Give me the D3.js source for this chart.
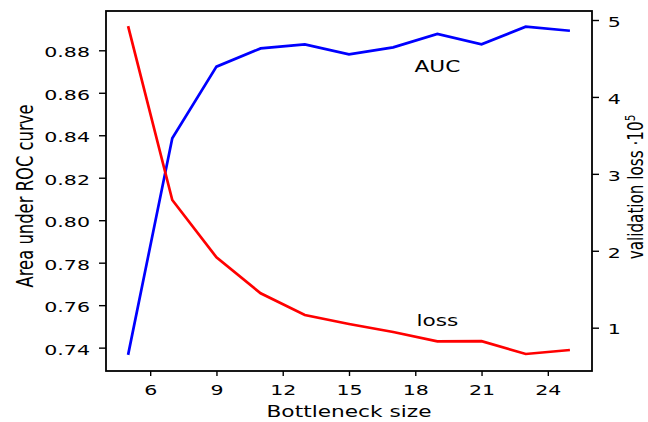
<!DOCTYPE html>
<html>
<head>
<meta charset="utf-8">
<script src="https://cdn.jsdelivr.net/npm/d3@7"></script>
<style>
  body { margin: 0; background: #fff; }
  text { font-family: "DejaVu Sans", sans-serif; fill: #000; }
</style>
</head>
<body>
<div id="chart"></div>
<script>
// bottleneck sizes on the x axis
var sizes = [5, 7, 9, 11, 13, 15, 17, 19, 21, 23, 25];
// area under ROC curve (left axis)
var aucValues = [0.7366, 0.8386, 0.8723, 0.8809, 0.8828, 0.8781, 0.8814, 0.8877, 0.8828, 0.8911, 0.8892];
// validation loss * 1e5 (right axis)
var lossValues = [4.92, 2.66, 1.915, 1.447, 1.165, 1.048, 0.944, 0.823, 0.825, 0.658, 0.71];

var xTicks = [6, 9, 12, 15, 18, 21, 24];
var leftTicks = [0.74, 0.76, 0.78, 0.80, 0.82, 0.84, 0.86, 0.88];
var rightTicks = [1, 2, 3, 4, 5];

var width = 648, height = 422;
var margin = {top: 11, right: 56, bottom: 51, left: 106};
var sx = 1.4; // the picture is stretched sideways

var svg = d3.select("#chart").append("svg")
    .attr("width", width)
    .attr("height", height);

var xScale = d3.scaleLinear().domain([4, 26]).range([margin.left, width - margin.right]);
var yLeft = d3.scaleLinear().domain([0.729, 0.8985]).range([height - margin.bottom, margin.top]);
var yRight = d3.scaleLinear().domain([0.437, 5.117]).range([height - margin.bottom, margin.top]);

var x0 = margin.left, x1 = width - margin.right;
var y0 = margin.top, y1 = height - margin.bottom;

// lines
var aucLine = d3.line()
    .x(function(d, i) { return xScale(sizes[i]); })
    .y(function(d) { return yLeft(d); });
var lossLine = d3.line()
    .x(function(d, i) { return xScale(sizes[i]); })
    .y(function(d) { return yRight(d); });

svg.append("path").datum(aucValues)
    .attr("d", aucLine)
    .attr("fill", "none").attr("stroke", "#0000ff").attr("stroke-width", 2.7);
svg.append("path").datum(lossValues)
    .attr("d", lossLine)
    .attr("fill", "none").attr("stroke", "#ff0000").attr("stroke-width", 2.7);

// axes
var gx = svg.append("g")
    .attr("transform", "translate(0," + y1 + ")")
    .call(d3.axisBottom(xScale).tickValues(xTicks).tickSize(5).tickSizeOuter(0));
var gl = svg.append("g")
    .attr("transform", "translate(" + x0 + ",0)")
    .call(d3.axisLeft(yLeft).tickValues(leftTicks).tickFormat(d3.format(".2f")).tickSize(7).tickSizeOuter(0));
var gr = svg.append("g")
    .attr("transform", "translate(" + x1 + ",0)")
    .call(d3.axisRight(yRight).tickValues(rightTicks).tickFormat(d3.format("d")).tickSize(7).tickSizeOuter(0));

[gx, gl, gr].forEach(function(g) {
    g.select(".domain").remove();
    g.selectAll(".tick line").attr("stroke", "#000").attr("stroke-width", 1.4);
    g.selectAll(".tick text").attr("font-family", "DejaVu Sans").attr("font-size", 14.7).attr("fill", "#000");
});

gx.selectAll(".tick text")
    .attr("y", 0).attr("dy", 0)
    .attr("transform", "translate(0,24) scale(" + sx + ",1)");
gl.selectAll(".tick text")
    .attr("x", 0).attr("dy", 0)
    .attr("transform", "translate(-16,6.6) scale(" + sx + ",1)");
gr.selectAll(".tick text")
    .attr("x", 0).attr("dy", 0)
    .attr("transform", "translate(15.7,6.3) scale(" + sx + ",1)");

// frame
svg.append("rect")
    .attr("x", x0).attr("y", y0)
    .attr("width", x1 - x0).attr("height", y1 - y0)
    .attr("fill", "none").attr("stroke", "#000").attr("stroke-width", 1.8);

// axis titles
svg.append("text")
    .attr("transform", "translate(" + ((x0 + x1) / 2) + ",417) scale(" + sx + ",1)")
    .attr("text-anchor", "middle")
    .attr("font-size", 15.5)
    .text("Bottleneck size");

svg.append("text")
    .attr("transform", "translate(32.5,196) scale(" + sx + ",1) rotate(-90)")
    .attr("text-anchor", "middle")
    .attr("font-size", 16.4)
    .text("Area under ROC curve");

var rl = svg.append("text")
    .attr("transform", "translate(643,187) scale(" + sx + ",1) rotate(-90)")
    .attr("text-anchor", "middle")
    .attr("font-size", 15.2);
rl.append("tspan").text("validation loss \u00b710");
rl.append("tspan").attr("dy", -6).attr("font-size", 10.5).text("5");

// line annotations
svg.append("text")
    .attr("transform", "translate(" + xScale(19) + "," + yLeft(0.87) + ") scale(" + sx + ",1)")
    .attr("text-anchor", "middle")
    .attr("font-size", 15.5)
    .text("AUC");
svg.append("text")
    .attr("transform", "translate(" + xScale(19) + "," + yLeft(0.75) + ") scale(" + sx + ",1)")
    .attr("text-anchor", "middle")
    .attr("font-size", 15.5)
    .text("loss");
</script>
</body>
</html>
